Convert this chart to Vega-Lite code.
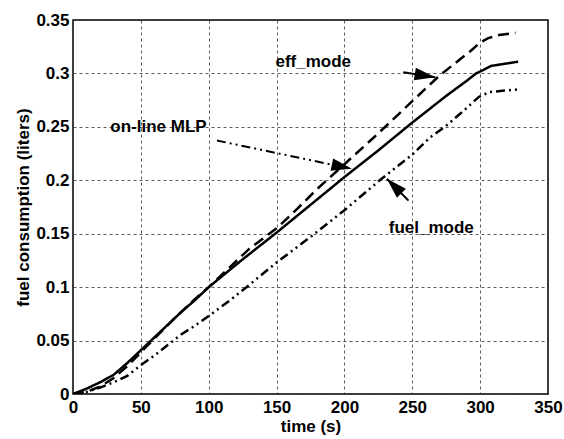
{
  "$schema": "https://vega.github.io/schema/vega-lite/v6.json",
  "width": 475,
  "height": 374,
  "autosize": {"type": "none"},
  "padding": {"left": 73, "top": 20, "right": 16, "bottom": 45},
  "background": "white",
  "config": {
    "font": "Liberation Sans",
    "view": {"stroke": "black", "strokeWidth": 1.5},
    "axis": {
      "labelFont": "Liberation Sans",
      "labelFontWeight": "bold",
      "labelFontSize": 17,
      "labelColor": "black",
      "titleFont": "Liberation Sans",
      "titleFontWeight": "bold",
      "titleFontSize": 17,
      "titleColor": "black",
      "grid": true,
      "gridColor": "#333333",
      "gridDash": [3, 3],
      "gridWidth": 0.8,
      "gridOpacity": 1,
      "domain": false,
      "ticks": false,
      "labelFlush": false,
      "labelOverlap": false,
      "labelBound": false
    }
  },
  "datasets": {
    "runs": [
      {"series": "on-line MLP", "time": 0, "fuel": 0},
      {"series": "on-line MLP", "time": 10, "fuel": 0.005},
      {"series": "on-line MLP", "time": 20, "fuel": 0.011},
      {"series": "on-line MLP", "time": 30, "fuel": 0.018},
      {"series": "on-line MLP", "time": 40, "fuel": 0.029},
      {"series": "on-line MLP", "time": 50, "fuel": 0.041},
      {"series": "on-line MLP", "time": 60, "fuel": 0.053},
      {"series": "on-line MLP", "time": 70, "fuel": 0.065},
      {"series": "on-line MLP", "time": 80, "fuel": 0.077},
      {"series": "on-line MLP", "time": 90, "fuel": 0.088},
      {"series": "on-line MLP", "time": 100, "fuel": 0.1},
      {"series": "on-line MLP", "time": 125, "fuel": 0.126},
      {"series": "on-line MLP", "time": 150, "fuel": 0.151},
      {"series": "on-line MLP", "time": 175, "fuel": 0.177},
      {"series": "on-line MLP", "time": 200, "fuel": 0.203},
      {"series": "on-line MLP", "time": 225, "fuel": 0.228},
      {"series": "on-line MLP", "time": 250, "fuel": 0.254},
      {"series": "on-line MLP", "time": 275, "fuel": 0.279},
      {"series": "on-line MLP", "time": 290, "fuel": 0.293},
      {"series": "on-line MLP", "time": 297, "fuel": 0.3},
      {"series": "on-line MLP", "time": 302, "fuel": 0.303},
      {"series": "on-line MLP", "time": 308, "fuel": 0.307},
      {"series": "on-line MLP", "time": 318, "fuel": 0.309},
      {"series": "on-line MLP", "time": 328, "fuel": 0.311},

      {"series": "eff_mode", "time": 0, "fuel": 0},
      {"series": "eff_mode", "time": 10, "fuel": 0.002},
      {"series": "eff_mode", "time": 20, "fuel": 0.007},
      {"series": "eff_mode", "time": 30, "fuel": 0.015},
      {"series": "eff_mode", "time": 40, "fuel": 0.026},
      {"series": "eff_mode", "time": 50, "fuel": 0.039},
      {"series": "eff_mode", "time": 60, "fuel": 0.052},
      {"series": "eff_mode", "time": 75, "fuel": 0.071},
      {"series": "eff_mode", "time": 90, "fuel": 0.089},
      {"series": "eff_mode", "time": 100, "fuel": 0.1},
      {"series": "eff_mode", "time": 115, "fuel": 0.118},
      {"series": "eff_mode", "time": 130, "fuel": 0.136},
      {"series": "eff_mode", "time": 150, "fuel": 0.155},
      {"series": "eff_mode", "time": 165, "fuel": 0.173},
      {"series": "eff_mode", "time": 180, "fuel": 0.192},
      {"series": "eff_mode", "time": 200, "fuel": 0.215},
      {"series": "eff_mode", "time": 225, "fuel": 0.244},
      {"series": "eff_mode", "time": 250, "fuel": 0.274},
      {"series": "eff_mode", "time": 270, "fuel": 0.298},
      {"series": "eff_mode", "time": 285, "fuel": 0.313},
      {"series": "eff_mode", "time": 293, "fuel": 0.321},
      {"series": "eff_mode", "time": 300, "fuel": 0.329},
      {"series": "eff_mode", "time": 306, "fuel": 0.333},
      {"series": "eff_mode", "time": 314, "fuel": 0.336},
      {"series": "eff_mode", "time": 326, "fuel": 0.338},

      {"series": "fuel_mode", "time": 0, "fuel": 0},
      {"series": "fuel_mode", "time": 10, "fuel": 0.002},
      {"series": "fuel_mode", "time": 20, "fuel": 0.006},
      {"series": "fuel_mode", "time": 30, "fuel": 0.011},
      {"series": "fuel_mode", "time": 40, "fuel": 0.017},
      {"series": "fuel_mode", "time": 50, "fuel": 0.027},
      {"series": "fuel_mode", "time": 60, "fuel": 0.036},
      {"series": "fuel_mode", "time": 70, "fuel": 0.046},
      {"series": "fuel_mode", "time": 80, "fuel": 0.056},
      {"series": "fuel_mode", "time": 90, "fuel": 0.064},
      {"series": "fuel_mode", "time": 100, "fuel": 0.073},
      {"series": "fuel_mode", "time": 116, "fuel": 0.088},
      {"series": "fuel_mode", "time": 125, "fuel": 0.097},
      {"series": "fuel_mode", "time": 150, "fuel": 0.123},
      {"series": "fuel_mode", "time": 175, "fuel": 0.147},
      {"series": "fuel_mode", "time": 200, "fuel": 0.172},
      {"series": "fuel_mode", "time": 226, "fuel": 0.2},
      {"series": "fuel_mode", "time": 250, "fuel": 0.224},
      {"series": "fuel_mode", "time": 263, "fuel": 0.24},
      {"series": "fuel_mode", "time": 274, "fuel": 0.25},
      {"series": "fuel_mode", "time": 285, "fuel": 0.262},
      {"series": "fuel_mode", "time": 293, "fuel": 0.271},
      {"series": "fuel_mode", "time": 299, "fuel": 0.278},
      {"series": "fuel_mode", "time": 307, "fuel": 0.2826},
      {"series": "fuel_mode", "time": 318, "fuel": 0.284},
      {"series": "fuel_mode", "time": 328, "fuel": 0.285}
    ],
    "notes": [
      {"label": "eff_mode", "tx": 177, "ty": 0.311, "t0": 243.3, "v0": 0.3011, "t1": 266.8, "v1": 0.2965},
      {"label": "on-line MLP", "tx": 63, "ty": 0.2497, "t0": 106.1, "v0": 0.2372, "t1": 205.5, "v1": 0.2107},
      {"label": "fuel_mode", "tx": 264, "ty": 0.1549, "t0": 247.2, "v0": 0.181, "t1": 231.3, "v1": 0.2014}
    ]
  },
  "layer": [
    {
      "data": {"name": "runs"},
      "mark": {"type": "line", "color": "black", "strokeWidth": 2.5, "clip": true},
      "encoding": {
        "x": {
          "field": "time", "type": "quantitative",
          "scale": {"domain": [0, 350], "nice": false},
          "axis": {"title": "time (s)", "values": [0, 50, 100, 150, 200, 250, 300, 350], "labelPadding": 5, "titlePadding": 3}
        },
        "y": {
          "field": "fuel", "type": "quantitative",
          "scale": {"domain": [0, 0.35], "nice": false},
          "axis": {"title": "fuel consumption (liters)", "values": [0, 0.05, 0.1, 0.15, 0.2, 0.25, 0.3, 0.35], "format": "~g", "labelPadding": 4, "titlePadding": 3}
        },
        "detail": {"field": "series"},
        "strokeDash": {
          "field": "series", "type": "nominal",
          "scale": {"domain": ["on-line MLP", "eff_mode", "fuel_mode"], "range": [[1, 0], [11, 6], [9, 4, 2, 4, 2, 4]]},
          "legend": null
        }
      }
    },
    {
      "data": {"name": "notes"},
      "mark": {"type": "rule", "color": "black", "strokeWidth": 2},
      "encoding": {
        "x": {"field": "t0", "type": "quantitative"},
        "y": {"field": "v0", "type": "quantitative"},
        "x2": {"field": "t1"},
        "y2": {"field": "v1"},
        "strokeDash": {
          "condition": {"test": "datum.label === 'on-line MLP'", "value": [9, 4, 2, 4, 2, 4]},
          "value": [1, 0]
        }
      }
    },
    {
      "data": {"name": "notes"},
      "mark": {"type": "point", "shape": "M0,0 L-2,-0.62 L-2,0.62 Z", "filled": true, "color": "black", "opacity": 1, "size": 420},
      "encoding": {
        "x": {"field": "t1", "type": "quantitative"},
        "y": {"field": "v1", "type": "quantitative"},
        "angle": {
          "condition": [
            {"test": "datum.label === 'eff_mode'", "value": 9},
            {"test": "datum.label === 'on-line MLP'", "value": 12}
          ],
          "value": 225
        }
      }
    },
    {
      "data": {"name": "notes"},
      "mark": {"type": "text", "font": "Liberation Sans", "fontWeight": "bold", "fontSize": 17, "color": "black", "align": "center", "baseline": "middle"},
      "encoding": {
        "x": {"field": "tx", "type": "quantitative"},
        "y": {"field": "ty", "type": "quantitative"},
        "text": {"field": "label"}
      }
    }
  ]
}
